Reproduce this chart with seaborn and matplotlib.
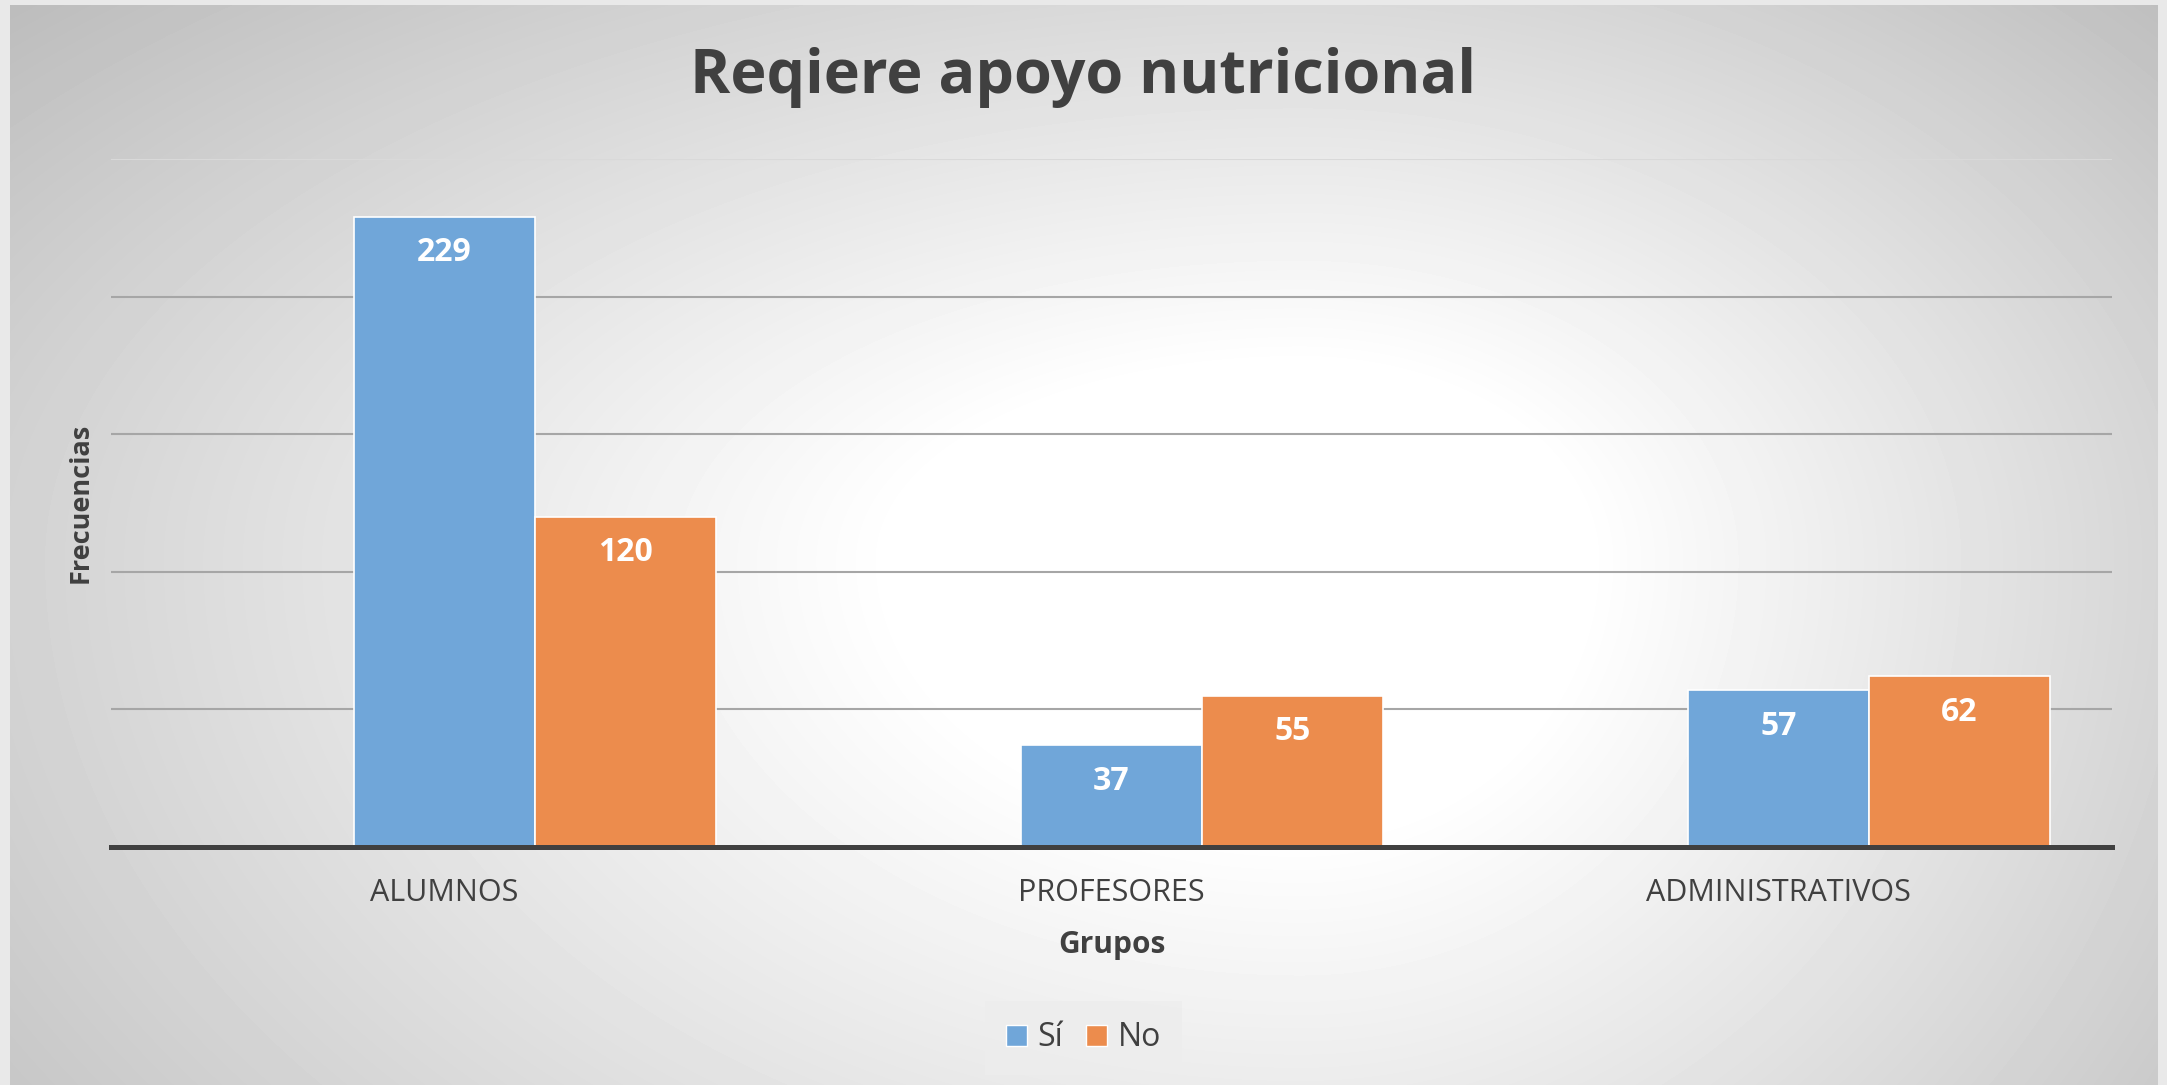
import numpy as np
import pandas as pd
import seaborn as sns
import matplotlib.pyplot as plt
from matplotlib.patches import Patch

# data
grupos = ["ALUMNOS", "PROFESORES", "ADMINISTRATIVOS"]
respuestas = ["Sí", "No"]
si_vals = [229, 37, 57]
no_vals = [120, 55, 62]
colores = ["#70A6D9", "#EC8C4D"]

df = pd.DataFrame({
    "Grupo": grupos * 2,
    "Respuesta": ["Sí"] * 3 + ["No"] * 3,
    "Frecuencia": si_vals + no_vals,
})

plt.rcParams["font.family"] = ["Open Sans", "DejaVu Sans"]
W, H = 2167, 1085
fig = plt.figure(figsize=(W / 100, H / 100), dpi=100)
fig.patch.set_facecolor("#e9e9e9")

# radial grey-to-white background of the chart area
bg = fig.add_axes([10 / W, 0, 2148 / W, 1 - 5 / H], zorder=0)
yy, xx = np.mgrid[0:1080, 0:2148]
cx, cy = 1290, 555
rx = np.where(xx < cx, 1350.0, 950.0)
ry = np.where(yy < cy, 650.0, 900.0)
d = np.sqrt(((xx - cx) / rx) ** 2 + ((yy - cy) / ry) ** 2)
t = np.clip((d - 0.3) / 0.9, 0, None)
shade = np.maximum(1 - 0.24 * t, 0.73)
bg.imshow(shade, cmap="gray", vmin=0, vmax=1, aspect="auto", interpolation="bilinear")
bg.axis("off")

ax = fig.add_axes([111 / W, 1 - 847 / H, 2001 / W, 688 / H], zorder=1)
ax.patch.set_alpha(0)

# the original chart keeps an empty first series, so Sí sits on the category centre
sns.barplot(data=df, x="Grupo", y="Frecuencia", hue="Respuesta",
            order=grupos, hue_order=[" "] + respuestas,
            palette=["#ffffff"] + colores,
            width=0.814, edgecolor="white", linewidth=1.2, saturation=1,
            legend=False, ax=ax)

ax.set_ylim(0, 250)
ax.set_xlim(-0.5, 2.5)
ax.set_yticks(range(0, 251, 50))
ax.set_yticklabels([])
ax.tick_params(axis="both", length=0)
ax.tick_params(axis="x", pad=22, labelsize=22, labelcolor="#404040")
ax.grid(axis="y", color="#a6a6a6", linewidth=1.5)
ax.yaxis.get_gridlines()[-1].set_color("#d9d9d9")
ax.set_axisbelow(True)
for s in ["top", "right", "left"]:
    ax.spines[s].set_visible(False)
ax.spines["bottom"].set_color("#404040")
ax.spines["bottom"].set_linewidth(3.6)

ax.set_xlabel("Grupos", fontsize=21.5, fontweight="bold", color="#404040", labelpad=16)
ax.set_ylabel("Frecuencias", fontsize=19.5, fontweight="bold", color="#404040", labelpad=9)

# value labels inside the bar tops
for p in ax.patches:
    h = p.get_height()
    if h > 0:
        ax.annotate(f"{int(round(h))}", (p.get_x() + p.get_width() / 2, h),
                    xytext=(0, -26), textcoords="offset points",
                    ha="center", va="center", color="white",
                    fontsize=23, fontweight="bold")

fig.text(0.5, 1 - 78 / H, "Reqiere apoyo nutricional", ha="center", va="center",
         fontsize=44, fontweight="bold", color="#404040")

handles = [Patch(facecolor=c, edgecolor="white", label=r) for c, r in zip(colores, respuestas)]
leg = fig.legend(handles=handles, loc="center", bbox_to_anchor=(0.5, 1 - 1038 / H),
                 ncol=2, frameon=True, fontsize=23, handlelength=0.65, handleheight=0.65,
                 handletextpad=0.35, columnspacing=0.7, borderpad=0.35, labelcolor="#404040")
leg.get_frame().set_facecolor("#ededed")
leg.get_frame().set_edgecolor("none")
leg.get_frame().set_boxstyle("square", pad=0.3)

fig.savefig("out.png", dpi=100, facecolor=fig.get_facecolor())
